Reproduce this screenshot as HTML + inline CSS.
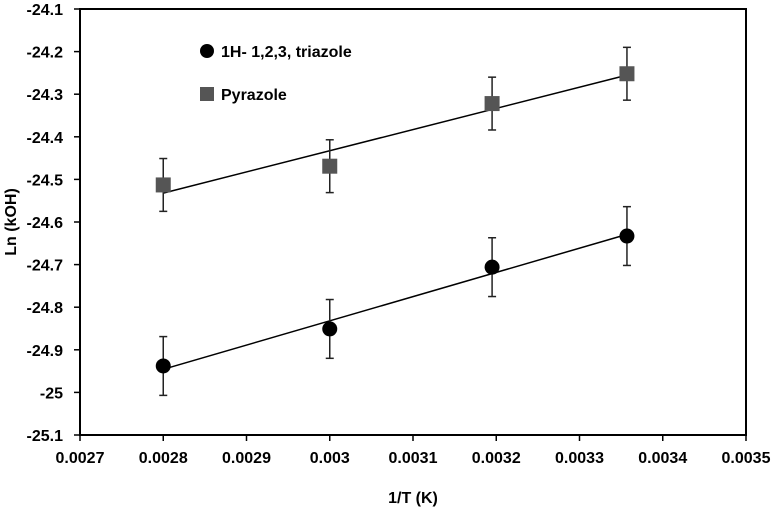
<!DOCTYPE html>
<html><head><meta charset="utf-8"><style>
html,body{margin:0;padding:0;background:#fff;}
svg{display:block;font-family:"Liberation Sans",Arial,sans-serif;font-weight:bold;}
</style></head><body>
<svg id="chart" width="775" height="520" viewBox="0 0 775 520">
<g id="axes"></g>
<g id="marks"></g>
<g>
<circle cx="207" cy="51" r="7" fill="#000"/>
<text x="221" y="57" font-size="16">1H- 1,2,3, triazole</text>
<rect x="200" y="87" width="14" height="14" fill="#555"/>
<text x="221" y="100" font-size="16">Pyrazole</text>
</g>
<text x="413" y="503" font-size="16" text-anchor="middle">1/T (K)</text>
<text transform="translate(16,222) rotate(-90)" font-size="16" text-anchor="middle">Ln (kOH)</text>
</svg>
<script>
const xTicks = [0.0027,0.0028,0.0029,0.003,0.0031,0.0032,0.0033,0.0034,0.0035];
const xTickLabels = ["0.0027","0.0028","0.0029","0.003","0.0031","0.0032","0.0033","0.0034","0.0035"];
const yTicks = [-24.1,-24.2,-24.3,-24.4,-24.5,-24.6,-24.7,-24.8,-24.9,-25,-25.1];
const yTickLabels = ["-24.1","-24.2","-24.3","-24.4","-24.5","-24.6","-24.7","-24.8","-24.9","-25","-25.1"];
const xValues = [0.0028,0.003,0.003195,0.003357];
const triazole = [-24.938,-24.851,-24.706,-24.633];
const triazoleErr = [0.069,0.069,0.069,0.069];
const pyrazole = [-24.513,-24.469,-24.322,-24.252];
const pyrazoleErr = [0.062,0.062,0.062,0.062];

const L=80,R=746,T=9,B=435;
const xMin=0.0027,xMax=0.0035,yMin=-25.1,yMax=-24.1;
const sx=v=>L+(v-xMin)/(xMax-xMin)*(R-L);
const sy=v=>B-(v-yMin)/(yMax-yMin)*(B-T);
const NS="http://www.w3.org/2000/svg";
function mk(tag,attrs,parent){const e=document.createElementNS(NS,tag);for(const k in attrs)e.setAttribute(k,attrs[k]);parent.appendChild(e);return e;}
const axes=document.getElementById('axes'), marks=document.getElementById('marks');

const frame=mk('rect',{x:L,y:T,width:R-L,height:B-T,fill:'none',stroke:'#000','stroke-width':2},axes);


xTicks.forEach((v,i)=>{
  const t=mk('line',{x1:sx(v),x2:sx(v),y1:B,y2:B+6,stroke:'#000','stroke-width':1.5},axes);
  
  
  const l=mk('text',{x:sx(v),y:B+28,'font-size':16,'text-anchor':'middle'},axes);
  l.textContent=xTickLabels[i];
  
  
});
yTicks.forEach((v,i)=>{
  const t=mk('line',{x1:L-6,x2:L,y1:sy(v),y2:sy(v),stroke:'#000','stroke-width':1.5},axes);
  
  
  const l=mk('text',{x:63,y:sy(v)+6,'font-size':16,'text-anchor':'end'},axes);
  l.textContent=yTickLabels[i];
  
  
});

function fit(xs,ys){const n=xs.length;const mx=xs.reduce((a,b)=>a+b)/n,my=ys.reduce((a,b)=>a+b)/n;
 let num=0,den=0;for(let i=0;i<n;i++){num+=(xs[i]-mx)*(ys[i]-my);den+=(xs[i]-mx)**2;}const m=num/den;return [m,my-m*mx];}

function series(ys,errs,kind,name){
  const [m,b]=fit(xValues,ys);
  const x0=xValues[0],x1=xValues[xValues.length-1];
  const ln=mk('line',{x1:sx(x0),y1:sy(m*x0+b),x2:sx(x1),y2:sy(m*x1+b),stroke:'#000','stroke-width':1.5},marks);
  
  
  xValues.forEach((x,i)=>{
    const cx=sx(x),top=sy(ys[i]+errs[i]),bot=sy(ys[i]-errs[i]);
    const g=mk('g',{stroke:'#222','stroke-width':1.5},marks);
    
    
    mk('line',{x1:cx,x2:cx,y1:top,y2:bot},g);
    mk('line',{x1:cx-4,x2:cx+4,y1:top,y2:top},g);
    mk('line',{x1:cx-4,x2:cx+4,y1:bot,y2:bot},g);
    let p;
    if(kind==='circle') p=mk('circle',{cx:cx,cy:sy(ys[i]),r:7.5,fill:'#000'},marks);
    else p=mk('rect',{x:cx-7.5,y:sy(ys[i])-7.5,width:15,height:15,fill:'#555'},marks);
    
    
  });
}
series(pyrazole,pyrazoleErr,'square','pyrazole');
series(triazole,triazoleErr,'circle','triazole');
</script>
</body></html>
